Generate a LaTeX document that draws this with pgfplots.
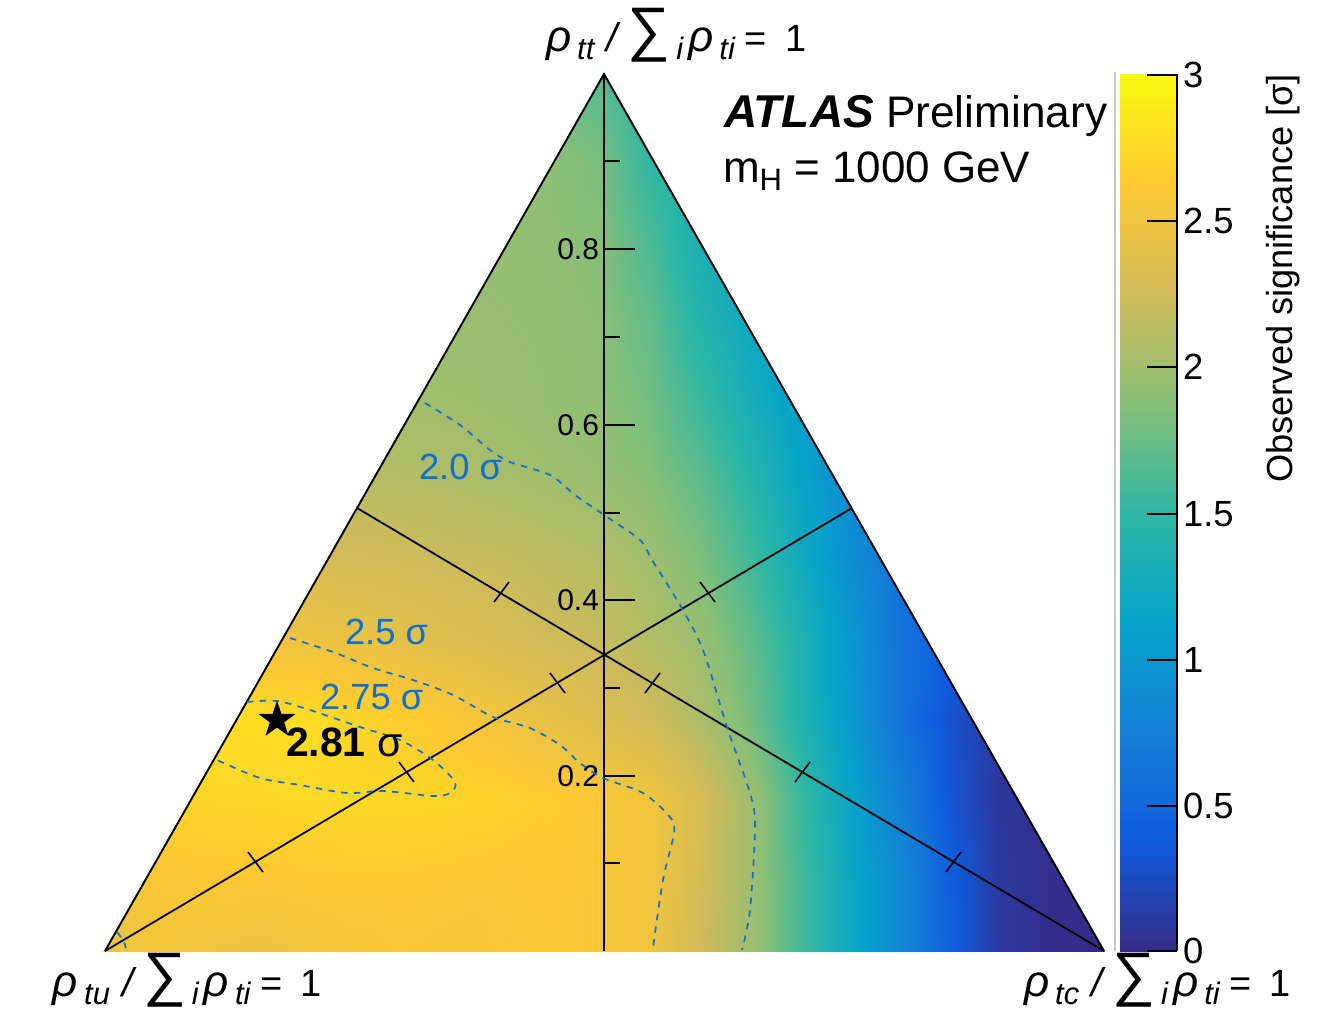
\documentclass[border=0pt]{standalone}
\usepackage{pgfplots}
\pgfplotsset{compat=1.18}
\usepackage{fontspec}
\setmainfont{Liberation Sans}
\pgfplotsset{colormap={bird}{
 rgb=(0.2082,0.1664,0.5293) rgb=(0.0592,0.3599,0.8684) rgb=(0.0780,0.5041,0.8385)
 rgb=(0.0232,0.6419,0.7914) rgb=(0.1802,0.7178,0.6425) rgb=(0.5301,0.7492,0.4662)
 rgb=(0.8186,0.7328,0.3499) rgb=(0.9956,0.7862,0.1968) rgb=(0.9764,0.9832,0.0539)}}
\definecolor{cblue}{rgb}{0.05,0.44,0.82}
\pgfdeclareplotmark{fstar}{%
 \pgfpathmoveto{\pgfqpointpolar{90}{\pgfplotmarksize}}%
 \foreach \a in {126,198,270,342,54}{\pgfpathlineto{\pgfqpointpolar{\a}{0.39\pgfplotmarksize}}%
 \pgfmathsetmacro\b{\a+36}\pgfpathlineto{\pgfqpointpolar{\b}{\pgfplotmarksize}}}%
 \pgfpathclose\pgfusepathqfill}
\newcommand{\rsub}[1]{\raisebox{-4pt}{\fontsize{15.5}{18}\selectfont\itshape #1}}
\newcommand{\rlab}[1]{{\fontsize{22}{24}\selectfont\itshape ρ}\hspace{3pt}\rsub{#1}\hspace{6pt}{\fontsize{20}{22}\selectfont\itshape /}\hspace{5pt}\raisebox{1pt}{\fontsize{30}{30}\selectfont ∑}\hspace{3pt}\rsub{i}\hspace{2.5pt}{\fontsize{22}{24}\selectfont\itshape ρ}\hspace{3pt}\rsub{ti}\hspace{5pt}{\fontsize{19}{22}\selectfont =}\hspace{9pt}{\fontsize{19}{22}\selectfont 1}}
\newcommand{\seg}[5]{\draw[line width=#1] (axis cs:#2,#3)--(axis cs:#4,#5);}
\newcommand{\cbl}[2]{\node[anchor=west,font=\fontsize{18.2}{20}\selectfont] at (axis cs:1183,#1) {#2};\seg{0.8pt}{1147}{#1}{1177}{#1}}
\newcommand{\vtl}[2]{\seg{0.9pt}{604}{#1}{635}{#1}\node[anchor=east,font=\fontsize{15}{17}\selectfont] at (axis cs:599,#1) {#2};}
\pgfplotsset{ctr/.style={smooth,cblue,line width=0.85pt,dash pattern=on 3.2pt off 3.2pt}}
\begin{document}
\begin{tikzpicture}[every node/.style={inner sep=0pt,outer sep=0pt}]
\begin{axis}[x=0.5pt,y=0.5pt,xmin=0,xmax=1318,ymin=0,ymax=1011,y dir=reverse,hide axis,clip=false,
  colormap name=bird,point meta min=0,point meta max=3]
\fill[white] (axis cs:0,0) rectangle (axis cs:1318,1011);
\addplot[surf,shader=interp,point meta=explicit,mesh/cols=21] coordinates {
(100,72)[1.9](150,72)[1.9](200,72)[1.9](250,72)[1.9](300,72)[1.9](350,72)[1.9](400,72)[1.9](450,72)[1.9](500,72)[1.92](550,72)[1.88](600,72)[1.64](650,72)[1.42](700,72)[1.3](750,72)[1.1](800,72)[0.9](850,72)[0.8](900,72)[0.6](950,72)[0.4](1000,72)[0.2](1050,72)[0.1](1105,72)[0.1]
(100,160)[1.95](150,160)[1.95](200,160)[1.95](250,160)[1.95](300,160)[1.95](350,160)[1.95](400,160)[1.95](450,160)[1.95](500,160)[1.93](550,160)[1.9](600,160)[1.82](650,160)[1.5](700,160)[1.3](750,160)[1.1](800,160)[0.9](850,160)[0.8](900,160)[0.6](950,160)[0.4](1000,160)[0.2](1050,160)[0.1](1105,160)[0.1]
(100,240)[2.0](150,240)[2.0](200,240)[2.0](250,240)[2.0](300,240)[2.0](350,240)[1.98](400,240)[1.98](450,240)[1.96](500,240)[1.94](550,240)[1.92](600,240)[1.87](650,240)[1.62](700,240)[1.32](750,240)[1.15](800,240)[0.95](850,240)[0.8](900,240)[0.6](950,240)[0.4](1000,240)[0.2](1050,240)[0.1](1105,240)[0.1]
(100,320)[2.0](150,320)[2.0](200,320)[2.0](250,320)[2.0](300,320)[2.0](350,320)[1.99](400,320)[1.98](450,320)[1.97](500,320)[1.96](550,320)[1.94](600,320)[1.9](650,320)[1.72](700,320)[1.42](750,320)[1.2](800,320)[1.0](850,320)[0.8](900,320)[0.6](950,320)[0.4](1000,320)[0.2](1050,320)[0.1](1105,320)[0.1]
(100,400)[2.1](150,400)[2.1](200,400)[2.05](250,400)[2.05](300,400)[2.05](350,400)[2.02](400,400)[2.01](450,400)[2.0](500,400)[1.98](550,400)[1.95](600,400)[1.91](650,400)[1.79](700,400)[1.55](750,400)[1.3](800,400)[1.05](850,400)[0.85](900,400)[0.6](950,400)[0.4](1000,400)[0.2](1050,400)[0.1](1105,400)[0.1]
(100,480)[2.2](150,480)[2.2](200,480)[2.2](250,480)[2.18](300,480)[2.15](350,480)[2.12](400,480)[2.1](450,480)[2.08](500,480)[2.04](550,480)[2.0](600,480)[1.96](650,480)[1.88](700,480)[1.7](750,480)[1.45](800,480)[1.15](850,480)[0.85](900,480)[0.6](950,480)[0.4](1000,480)[0.2](1050,480)[0.1](1105,480)[0.1]
(100,560)[2.35](150,560)[2.35](200,560)[2.35](250,560)[2.32](300,560)[2.3](350,560)[2.27](400,560)[2.25](450,560)[2.22](500,560)[2.2](550,560)[2.15](600,560)[2.1](650,560)[2.0](700,560)[1.84](750,560)[1.58](800,560)[1.25](850,560)[0.9](900,560)[0.6](950,560)[0.4](1000,560)[0.2](1050,560)[0.1](1105,560)[0.1]
(100,640)[2.55](150,640)[2.55](200,640)[2.55](250,640)[2.53](300,640)[2.49](350,640)[2.46](400,640)[2.41](450,640)[2.35](500,640)[2.3](550,640)[2.25](600,640)[2.2](650,640)[2.1](700,640)[1.97](750,640)[1.72](800,640)[1.38](850,640)[1.0](900,640)[0.6](950,640)[0.4](1000,640)[0.2](1050,640)[0.1](1105,640)[0.1]
(100,720)[2.76](150,720)[2.76](200,720)[2.76](250,720)[2.79](300,720)[2.78](350,720)[2.73](400,720)[2.67](450,720)[2.6](500,720)[2.52](550,720)[2.43](600,720)[2.35](650,720)[2.25](700,720)[2.07](750,720)[1.8](800,720)[1.4](850,720)[1.03](900,720)[0.6](950,720)[0.3](1000,720)[0.1](1050,720)[0.05](1105,720)[0.05]
(100,800)[2.7](150,800)[2.71](200,800)[2.72](250,800)[2.73](300,800)[2.74](350,800)[2.74](400,800)[2.74](450,800)[2.73](500,800)[2.7](550,800)[2.65](600,800)[2.59](650,800)[2.52](700,800)[2.3](750,800)[2.0](800,800)[1.55](850,800)[1.15](900,800)[0.75](950,800)[0.33](1000,800)[0.08](1050,800)[0.03](1105,800)[0.02]
(100,880)[2.56](150,880)[2.58](200,880)[2.6](250,880)[2.61](300,880)[2.62](350,880)[2.63](400,880)[2.63](450,880)[2.61](500,880)[2.6](550,880)[2.62](600,880)[2.58](650,880)[2.52](700,880)[2.28](750,880)[2.0](800,880)[1.6](850,880)[1.2](900,880)[0.85](950,880)[0.4](1000,880)[0.1](1050,880)[0.03](1105,880)[0.01]
(100,951)[2.45](150,951)[2.54](200,951)[2.5](250,951)[2.46](300,951)[2.5](350,951)[2.55](400,951)[2.58](450,951)[2.55](500,951)[2.58](550,951)[2.6](600,951)[2.58](650,951)[2.5](700,951)[2.25](750,951)[2.0](800,951)[1.6](850,951)[1.2](900,951)[0.85](950,951)[0.42](1000,951)[0.1](1050,951)[0.02](1105,951)[0]
};
% masks outside the triangle
\fill[white] (axis cs:95,953)--(axis cs:105,951)--(axis cs:604,74)--(axis cs:604,68)--(axis cs:95,68)--cycle;
\fill[white] (axis cs:1110,953)--(axis cs:1104,951)--(axis cs:604,74)--(axis cs:604,68)--(axis cs:1110,68)--cycle;
% colour bar
\addplot[surf,shader=interp,point meta=explicit,mesh/cols=2] coordinates {
(1120,74)[3](1176,74)[3]
(1120,512.5)[1.5](1176,512.5)[1.5]
(1120,951)[0](1176,951)[0]
};
\draw[line width=1pt,black!22] (axis cs:1115,72)--(axis cs:1115,951);
\draw[line width=1pt] (axis cs:1176.5,74)--(axis cs:1176.5,951);
\cbl{75}{3}\cbl{221}{2.5}\cbl{367}{2}\cbl{514}{1.5}\cbl{660}{1}\cbl{806}{0.5}\cbl{951}{0}
% triangle and axes
\draw[line width=0.95pt,line join=miter] (axis cs:105,951)--(axis cs:604,74)--(axis cs:1104,951);
\draw[line width=1pt] (axis cs:604,74)--(axis cs:604,951);
\draw[line width=0.9pt] (axis cs:105,951)--(axis cs:852,508);
\draw[line width=0.9pt] (axis cs:1104,951)--(axis cs:357,508);
\seg{0.9pt}{604}{863}{620}{863}\seg{0.9pt}{604}{688}{620}{688}\seg{0.9pt}{604}{513}{620}{513}\seg{0.9pt}{604}{337}{620}{337}\seg{0.9pt}{604}{161}{620}{161}
\vtl{776}{0.2}\vtl{600}{0.4}\vtl{425}{0.6}\vtl{249}{0.8}
\seg{0.8pt}{248}{852}{263}{872}\seg{0.8pt}{399}{762}{414}{782}\seg{0.8pt}{550}{673}{565}{693}\seg{0.8pt}{700}{582}{715}{602}
\seg{0.8pt}{961}{852}{946}{872}\seg{0.8pt}{810}{762}{795}{782}\seg{0.8pt}{660}{673}{645}{693}\seg{0.8pt}{509}{582}{494}{602}
% contours
\addplot[ctr] coordinates {(425,403)(460,425)(490,450)(510,462)(550,475)(575,495)(604,515)(640,540)(652,560)(680,605)(703,650)(727,727)(750,793)(755,827)(750,910)(742,950)};
\addplot[ctr] coordinates {(290,638)(333,652)(373,668)(413,680)(453,695)(493,717)(530,728)(560,745)(580,763)(603,778)(643,793)(670,817)(674,833)(663,880)(653,948)};
\addplot[ctr] coordinates {(247,702)(277,701)(310,710)(360,727)(400,740)(433,760)(455,782)(450,793)(433,796)(383,791)(347,793)(300,785)(260,778)(217,760)};
\addplot[ctr] coordinates {(117,932)(123,940)(126,948)};
\addplot[only marks,mark=fstar,mark size=9.7pt,black] coordinates {(277,720)};
% texts
\node[anchor=west,font=\fontsize{18.2}{20}\selectfont,text=cblue] at (axis cs:419,467) {2.0 σ};
\node[anchor=west,font=\fontsize{18.2}{20}\selectfont,text=cblue] at (axis cs:345,632) {2.5 σ};
\node[anchor=west,font=\fontsize{18.2}{20}\selectfont,text=cblue] at (axis cs:320,697) {2.75 σ};
\node[anchor=west,font=\fontsize{20.5}{22}\selectfont] at (axis cs:286,742) {\textbf{2.81} σ};
\node[anchor=base west,font=\fontsize{22.1}{24}\selectfont] at (axis cs:724,128) {{\fontsize{23}{24}\selectfont\textbf{\textit{ATLAS}}} Preliminary};
\node[anchor=base west,font=\fontsize{22}{24}\selectfont] at (axis cs:723,183) {m\raisebox{-4pt}{\fontsize{15.5}{18}\selectfont H} = 1000 GeV};
\node[rotate=90,anchor=east,font=\fontsize{18.1}{20}\selectfont] at (axis cs:1283,74) {Observed significance [σ]};
\node[anchor=base west] at (axis cs:546,52) {\rlab{tt}};
\node[anchor=base west] at (axis cs:53,996) {\rlab{tu}};
\node[anchor=base west] at (axis cs:1024,996) {\rlab{tc}};
\end{axis}
\end{tikzpicture}
\end{document}
